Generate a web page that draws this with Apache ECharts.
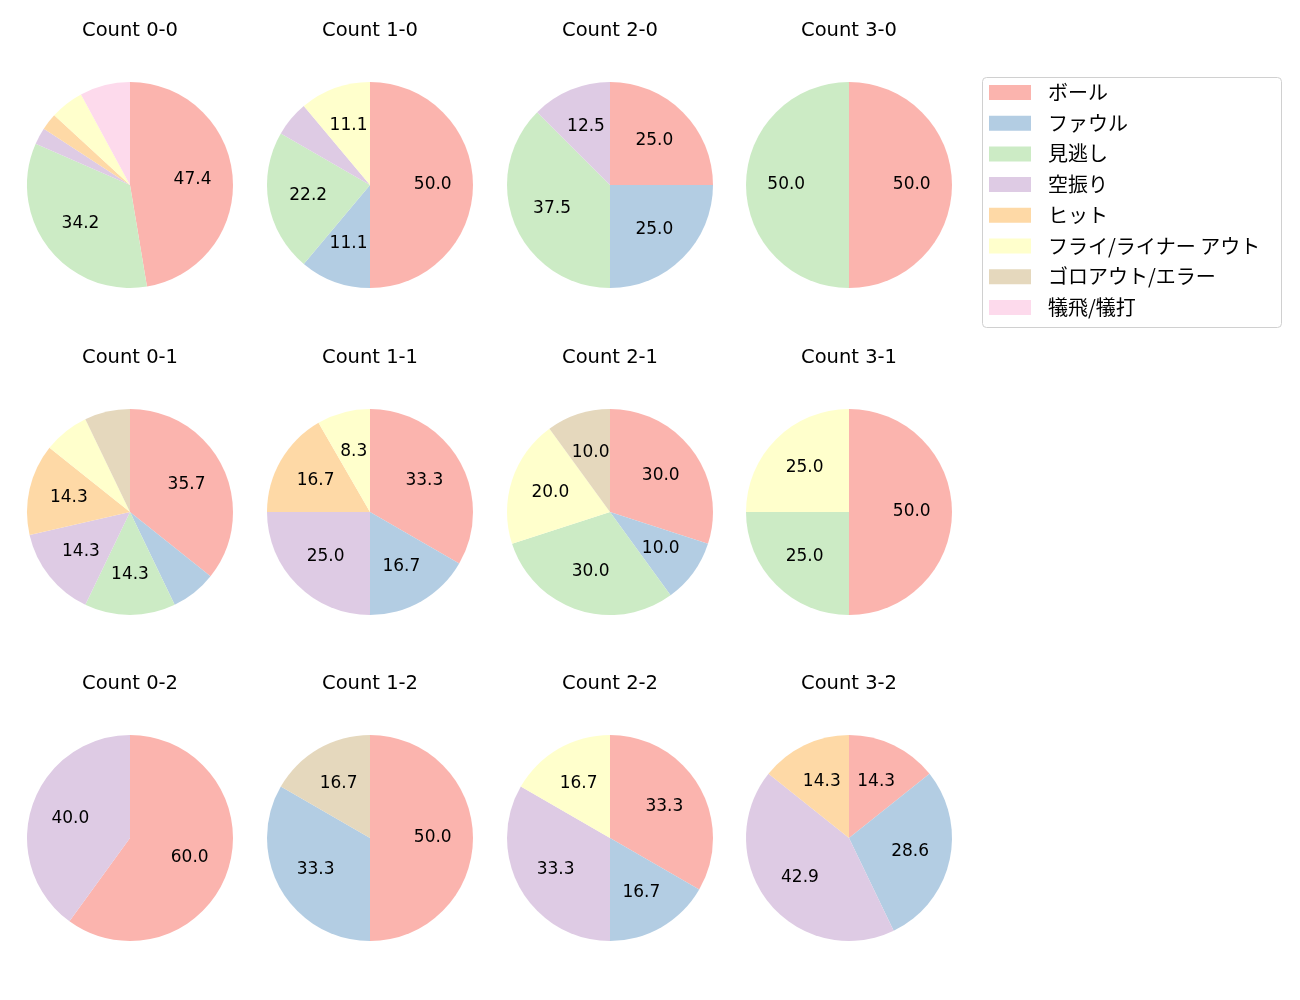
<!DOCTYPE html>
<html>
<head>
<meta charset="utf-8">
<script src="https://cdn.jsdelivr.net/npm/echarts@6/dist/echarts.min.js"></script>
<style>
html,body{margin:0;padding:0;background:#fff;}
#chart{width:1300px;height:1000px;}
</style>
</head>
<body>
<div id="chart"></div>
<script>
const categories = ['ボール','ファウル','見逃し','空振り','ヒット','フライ/ライナー アウト','ゴロアウト/エラー','犠飛/犠打'];
const colors = ['#fbb4ae','#b3cde3','#ccebc5','#decbe4','#fed9a6','#ffffcc','#e5d8bd','#fddaec'];
const titles = ['Count 0-0','Count 1-0','Count 2-0','Count 3-0',
                'Count 0-1','Count 1-1','Count 2-1','Count 3-1',
                'Count 0-2','Count 1-2','Count 2-2','Count 3-2'];
const c00 = [18,0,13,1,1,2,0,3];
const c10 = [9,2,4,1,0,2,0,0];
const c20 = [2,2,3,1,0,0,0,0];
const c30 = [1,0,1,0,0,0,0,0];
const c01 = [5,1,2,2,2,1,1,0];
const c11 = [4,2,0,3,2,1,0,0];
const c21 = [3,1,3,0,0,2,1,0];
const c31 = [2,0,1,0,0,1,0,0];
const c02 = [3,0,0,2,0,0,0,0];
const c12 = [3,2,0,0,0,0,1,0];
const c22 = [2,1,0,2,0,1,0,0];
const c32 = [1,2,0,3,1,0,0,0];
const allCounts = [c00,c10,c20,c30,c01,c11,c21,c31,c02,c12,c22,c32];

const colX = [130,370,610,849];
const rowY = [185,512,838];
const R = 103;
const LATIN = '"DejaVu Sans", "Noto Sans CJK JP", sans-serif';

const series = [];
const title = [];
allCounts.forEach((vals, i) => {
  const cx = colX[i % 4], cy = rowY[Math.floor(i / 4)];
  const total = vals.reduce((a, b) => a + b, 0);
  const data = [];
  vals.forEach((v, k) => {
    if (v > 0) data.push({ name: categories[k], value: v, itemStyle: { color: colors[k] } });
  });
  series.push({
    type: 'pie', center: [cx, cy], radius: [0, R], startAngle: 90, clockwise: true,
    silent: true, animation: false, label: { show: false }, labelLine: { show: false },
    itemStyle: { borderWidth: 0 },
    emphasis: { disabled: true },
    data: data
  });
  series.push({
    type: 'pie', center: [cx, cy], radius: [0, R * 1.16], startAngle: 90, clockwise: true,
    silent: true, animation: false,
    itemStyle: { color: 'rgba(0,0,0,0)', borderWidth: 0 },
    emphasis: { disabled: true },
    labelLine: { show: false },
    label: {
      show: true, position: 'inside', color: '#000', fontSize: 17, fontFamily: LATIN,
      formatter: p => { const pct = p.value / total * 100; return pct >= 8 ? pct.toFixed(1) : ''; }
    },
    data: data.map(d => ({ name: d.name, value: d.value }))
  });
  title.push({
    text: titles[i], left: cx, top: cy - 164, textAlign: 'center', padding: 0,
    textStyle: { fontSize: 19.5, fontWeight: 'normal', color: '#000', fontFamily: LATIN }
  });
});

const chart = echarts.init(document.getElementById('chart'));
chart.setOption({
  backgroundColor: '#fff',
  animation: false,
  title: title,
  legend: {
    orient: 'vertical', left: 989, top: 82.5, padding: 0,
    itemWidth: 42, itemHeight: 15, itemGap: 10.7, icon: 'rect',
    selectedMode: false,
    textStyle: { fontSize: 20, lineHeight: 20, color: '#000', fontFamily: '"Noto Sans CJK JP", sans-serif', padding: [0,0,0,12] },
    data: categories.map((c, k) => ({ name: c, itemStyle: { color: colors[k] } }))
  },
  graphic: [{
    type: 'rect', left: 982, top: 77, z: -1,
    shape: { width: 299, height: 250, r: 4 },
    style: { fill: '#fff', stroke: '#d0d0d0', lineWidth: 1 }
  }],
  series: series
});
</script>
</body>
</html>
